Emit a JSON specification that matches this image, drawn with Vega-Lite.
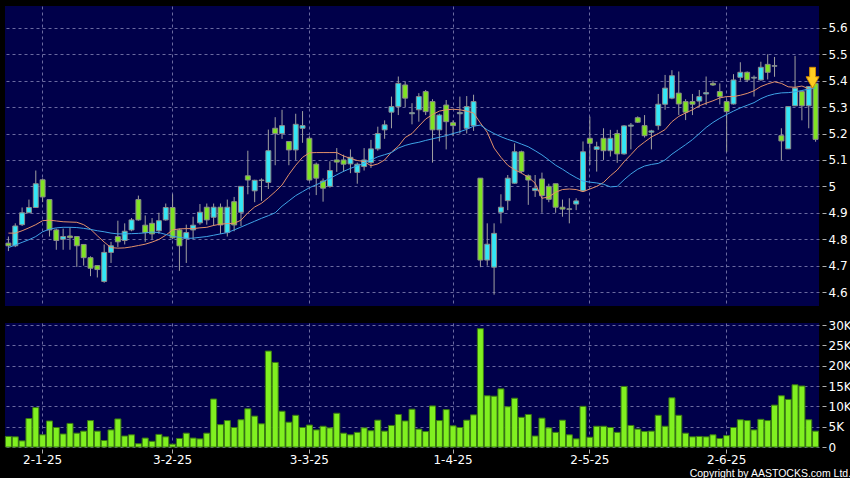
{
  "$schema": "https://vega.github.io/schema/vega-lite/v6.json",
  "background": "#000000",
  "padding": {"left": 4, "top": 6, "right": 0, "bottom": 0},
  "config": {
    "view": {"fill": "#00004a", "stroke": null},
    "concat": {"spacing": 13},
    "axis": {
      "title": null,
      "labelFont": "DejaVu Sans",
      "labelFontSize": 12,
      "labelColor": "#ffffff",
      "tickColor": "#b0b0b0",
      "domain": false,
      "gridColor": "#6a6aa0",
      "gridDash": [3, 3],
      "gridWidth": 1,
      "labelOverlap": false
    }
  },
  "title": {
    "text": "Copyright by AASTOCKS.com Ltd.",
    "orient": "bottom",
    "anchor": "end",
    "frame": "bounds",
    "font": "Liberation Sans",
    "fontSize": 10.5,
    "fontWeight": "normal",
    "color": "#ffffff",
    "offset": 4
  },
  "datasets": {
    "k": [
      {"d":"2024-12-23","o":4.785,"h":4.81,"l":4.755,"c":4.775,"v":2600,"ma1":4.823,"ma2":4.768},
      {"d":"2024-12-24","o":4.775,"h":4.86,"l":4.77,"c":4.85,"v":2500,"ma1":4.823,"ma2":4.778},
      {"d":"2024-12-27","o":4.855,"h":4.92,"l":4.85,"c":4.90,"v":1500,"ma1":4.832,"ma2":4.788},
      {"d":"2024-12-30","o":4.90,"h":4.95,"l":4.90,"c":4.92,"v":7000,"ma1":4.843,"ma2":4.798},
      {"d":"2024-12-31","o":4.92,"h":5.06,"l":4.92,"c":5.01,"v":9700,"ma1":4.855,"ma2":4.81},
      {"d":"2025-01-02","o":5.025,"h":5.03,"l":4.94,"c":4.96,"v":3000,"ma1":4.87,"ma2":4.828},
      {"d":"2025-01-03","o":4.95,"h":4.95,"l":4.81,"c":4.835,"v":6400,"ma1":4.872,"ma2":4.838},
      {"d":"2025-01-06","o":4.835,"h":4.84,"l":4.76,"c":4.795,"v":4800,"ma1":4.869,"ma2":4.843},
      {"d":"2025-01-07","o":4.80,"h":4.84,"l":4.76,"c":4.81,"v":3200,"ma1":4.866,"ma2":4.845},
      {"d":"2025-01-08","o":4.812,"h":4.845,"l":4.76,"c":4.806,"v":5800,"ma1":4.865,"ma2":4.845},
      {"d":"2025-01-09","o":4.81,"h":4.81,"l":4.695,"c":4.775,"v":3400,"ma1":4.864,"ma2":4.844},
      {"d":"2025-01-10","o":4.78,"h":4.78,"l":4.70,"c":4.73,"v":3900,"ma1":4.855,"ma2":4.841},
      {"d":"2025-01-13","o":4.73,"h":4.735,"l":4.66,"c":4.69,"v":6500,"ma1":4.838,"ma2":4.837},
      {"d":"2025-01-14","o":4.70,"h":4.70,"l":4.655,"c":4.685,"v":3900,"ma1":4.813,"ma2":4.832},
      {"d":"2025-01-15","o":4.64,"h":4.78,"l":4.635,"c":4.75,"v":1600,"ma1":4.789,"ma2":4.828},
      {"d":"2025-01-16","o":4.75,"h":4.79,"l":4.71,"c":4.775,"v":4200,"ma1":4.768,"ma2":4.823},
      {"d":"2025-01-17","o":4.81,"h":4.87,"l":4.77,"c":4.79,"v":6900,"ma1":4.766,"ma2":4.82},
      {"d":"2025-01-20","o":4.795,"h":4.86,"l":4.78,"c":4.83,"v":2700,"ma1":4.767,"ma2":4.82},
      {"d":"2025-01-21","o":4.835,"h":4.88,"l":4.83,"c":4.873,"v":3000,"ma1":4.771,"ma2":4.821},
      {"d":"2025-01-22","o":4.95,"h":4.965,"l":4.87,"c":4.873,"v":800,"ma1":4.776,"ma2":4.822},
      {"d":"2025-01-23","o":4.853,"h":4.89,"l":4.79,"c":4.825,"v":2200,"ma1":4.781,"ma2":4.824},
      {"d":"2025-01-24","o":4.86,"h":4.88,"l":4.80,"c":4.82,"v":1400,"ma1":4.789,"ma2":4.827},
      {"d":"2025-01-27","o":4.832,"h":4.90,"l":4.82,"c":4.87,"v":3100,"ma1":4.799,"ma2":4.825},
      {"d":"2025-01-28","o":4.873,"h":4.935,"l":4.87,"c":4.92,"v":2500,"ma1":4.815,"ma2":4.818},
      {"d":"2025-02-03","o":4.92,"h":4.97,"l":4.80,"c":4.805,"v":700,"ma1":4.835,"ma2":4.811},
      {"d":"2025-02-04","o":4.835,"h":4.84,"l":4.68,"c":4.775,"v":2100,"ma1":4.839,"ma2":4.807},
      {"d":"2025-02-05","o":4.803,"h":4.855,"l":4.71,"c":4.825,"v":3400,"ma1":4.84,"ma2":4.803},
      {"d":"2025-02-06","o":4.835,"h":4.885,"l":4.80,"c":4.853,"v":2200,"ma1":4.84,"ma2":4.804},
      {"d":"2025-02-07","o":4.862,"h":4.933,"l":4.855,"c":4.902,"v":2000,"ma1":4.843,"ma2":4.807},
      {"d":"2025-02-10","o":4.921,"h":4.935,"l":4.855,"c":4.873,"v":3400,"ma1":4.845,"ma2":4.81},
      {"d":"2025-02-11","o":4.883,"h":4.935,"l":4.85,"c":4.921,"v":11800,"ma1":4.852,"ma2":4.815},
      {"d":"2025-02-12","o":4.921,"h":4.935,"l":4.82,"c":4.854,"v":5500,"ma1":4.857,"ma2":4.82},
      {"d":"2025-02-13","o":4.825,"h":4.95,"l":4.81,"c":4.921,"v":6500,"ma1":4.859,"ma2":4.825},
      {"d":"2025-02-14","o":4.942,"h":4.96,"l":4.83,"c":4.854,"v":4800,"ma1":4.86,"ma2":4.835},
      {"d":"2025-02-17","o":4.902,"h":5.0,"l":4.85,"c":5.0,"v":6700,"ma1":4.872,"ma2":4.846},
      {"d":"2025-02-18","o":5.04,"h":5.135,"l":4.97,"c":5.024,"v":9400,"ma1":4.90,"ma2":4.857},
      {"d":"2025-02-19","o":4.983,"h":5.025,"l":4.94,"c":5.023,"v":7600,"ma1":4.922,"ma2":4.868},
      {"d":"2025-02-20","o":5.022,"h":5.03,"l":4.945,"c":5.024,"v":5700,"ma1":4.936,"ma2":4.879},
      {"d":"2025-02-21","o":5.015,"h":5.215,"l":4.99,"c":5.135,"v":23600,"ma1":4.957,"ma2":4.889},
      {"d":"2025-02-24","o":5.22,"h":5.262,"l":5.08,"c":5.20,"v":20800,"ma1":4.98,"ma2":4.90},
      {"d":"2025-02-25","o":5.20,"h":5.29,"l":5.18,"c":5.23,"v":8800,"ma1":5.005,"ma2":4.925},
      {"d":"2025-02-26","o":5.17,"h":5.17,"l":5.08,"c":5.138,"v":6100,"ma1":5.045,"ma2":4.945},
      {"d":"2025-02-27","o":5.138,"h":5.275,"l":5.10,"c":5.235,"v":7800,"ma1":5.08,"ma2":4.965},
      {"d":"2025-02-28","o":5.22,"h":5.285,"l":5.165,"c":5.23,"v":4800,"ma1":5.11,"ma2":4.98},
      {"d":"2025-03-03","o":5.182,"h":5.19,"l":5.02,"c":5.024,"v":5400,"ma1":5.127,"ma2":4.995},
      {"d":"2025-03-04","o":5.084,"h":5.09,"l":4.967,"c":5.031,"v":4200,"ma1":5.128,"ma2":5.006},
      {"d":"2025-03-05","o":5.02,"h":5.03,"l":4.942,"c":4.993,"v":5100,"ma1":5.128,"ma2":5.018},
      {"d":"2025-03-06","o":5.0,"h":5.095,"l":4.995,"c":5.06,"v":4700,"ma1":5.128,"ma2":5.03},
      {"d":"2025-03-07","o":5.10,"h":5.145,"l":5.055,"c":5.092,"v":8300,"ma1":5.128,"ma2":5.044},
      {"d":"2025-03-10","o":5.10,"h":5.12,"l":5.055,"c":5.084,"v":3400,"ma1":5.115,"ma2":5.057},
      {"d":"2025-03-11","o":5.085,"h":5.14,"l":5.05,"c":5.11,"v":3000,"ma1":5.106,"ma2":5.068},
      {"d":"2025-03-12","o":5.053,"h":5.09,"l":5.01,"c":5.084,"v":3600,"ma1":5.098,"ma2":5.078},
      {"d":"2025-03-13","o":5.075,"h":5.145,"l":5.06,"c":5.10,"v":4700,"ma1":5.094,"ma2":5.087},
      {"d":"2025-03-14","o":5.09,"h":5.176,"l":5.07,"c":5.142,"v":4000,"ma1":5.078,"ma2":5.10},
      {"d":"2025-03-17","o":5.142,"h":5.226,"l":5.135,"c":5.20,"v":6600,"ma1":5.085,"ma2":5.112},
      {"d":"2025-03-18","o":5.214,"h":5.25,"l":5.18,"c":5.233,"v":3900,"ma1":5.10,"ma2":5.12},
      {"d":"2025-03-19","o":5.281,"h":5.34,"l":5.22,"c":5.302,"v":5300,"ma1":5.13,"ma2":5.128},
      {"d":"2025-03-20","o":5.302,"h":5.416,"l":5.27,"c":5.39,"v":8000,"ma1":5.152,"ma2":5.145},
      {"d":"2025-03-21","o":5.384,"h":5.397,"l":5.30,"c":5.334,"v":6400,"ma1":5.185,"ma2":5.155},
      {"d":"2025-03-24","o":5.275,"h":5.315,"l":5.235,"c":5.279,"v":9300,"ma1":5.20,"ma2":5.162},
      {"d":"2025-03-25","o":5.29,"h":5.353,"l":5.245,"c":5.34,"v":4400,"ma1":5.228,"ma2":5.167},
      {"d":"2025-03-26","o":5.359,"h":5.365,"l":5.27,"c":5.283,"v":3800,"ma1":5.255,"ma2":5.174},
      {"d":"2025-03-27","o":5.321,"h":5.33,"l":5.09,"c":5.214,"v":10100,"ma1":5.272,"ma2":5.18},
      {"d":"2025-03-28","o":5.214,"h":5.275,"l":5.17,"c":5.27,"v":6500,"ma1":5.285,"ma2":5.186},
      {"d":"2025-03-31","o":5.308,"h":5.327,"l":5.14,"c":5.245,"v":9200,"ma1":5.29,"ma2":5.192},
      {"d":"2025-04-01","o":5.241,"h":5.25,"l":5.19,"c":5.23,"v":5200,"ma1":5.292,"ma2":5.20},
      {"d":"2025-04-02","o":5.275,"h":5.34,"l":5.20,"c":5.28,"v":4800,"ma1":5.29,"ma2":5.207},
      {"d":"2025-04-03","o":5.22,"h":5.342,"l":5.20,"c":5.302,"v":6600,"ma1":5.285,"ma2":5.216},
      {"d":"2025-04-04","o":5.23,"h":5.347,"l":5.21,"c":5.321,"v":7900,"ma1":5.278,"ma2":5.228},
      {"d":"2025-04-07","o":5.031,"h":5.031,"l":4.694,"c":4.721,"v":29100,"ma1":5.24,"ma2":5.232},
      {"d":"2025-04-08","o":4.721,"h":4.86,"l":4.70,"c":4.781,"v":12600,"ma1":5.205,"ma2":5.214},
      {"d":"2025-04-09","o":4.694,"h":4.86,"l":4.59,"c":4.822,"v":12500,"ma1":5.145,"ma2":5.20},
      {"d":"2025-04-10","o":4.902,"h":4.97,"l":4.86,"c":4.921,"v":14300,"ma1":5.11,"ma2":5.188},
      {"d":"2025-04-11","o":4.946,"h":5.043,"l":4.91,"c":5.031,"v":9900,"ma1":5.08,"ma2":5.178},
      {"d":"2025-04-14","o":5.012,"h":5.163,"l":5.01,"c":5.131,"v":12000,"ma1":5.063,"ma2":5.17},
      {"d":"2025-04-15","o":5.131,"h":5.135,"l":5.05,"c":5.056,"v":7300,"ma1":5.05,"ma2":5.16},
      {"d":"2025-04-16","o":5.04,"h":5.045,"l":4.93,"c":5.024,"v":8000,"ma1":5.035,"ma2":5.15},
      {"d":"2025-04-17","o":4.984,"h":5.043,"l":4.96,"c":4.993,"v":2700,"ma1":5.012,"ma2":5.135},
      {"d":"2025-04-22","o":5.028,"h":5.052,"l":4.90,"c":4.965,"v":7100,"ma1":4.955,"ma2":5.119},
      {"d":"2025-04-23","o":5.0,"h":5.01,"l":4.94,"c":4.951,"v":4700,"ma1":4.96,"ma2":5.10},
      {"d":"2025-04-24","o":5.01,"h":5.01,"l":4.90,"c":4.921,"v":3600,"ma1":4.978,"ma2":5.08},
      {"d":"2025-04-25","o":4.921,"h":4.95,"l":4.885,"c":4.914,"v":6600,"ma1":4.988,"ma2":5.065},
      {"d":"2025-04-28","o":4.913,"h":4.955,"l":4.86,"c":4.915,"v":3000,"ma1":4.99,"ma2":5.048},
      {"d":"2025-04-29","o":4.933,"h":4.955,"l":4.91,"c":4.945,"v":2000,"ma1":4.988,"ma2":5.033},
      {"d":"2025-04-30","o":4.983,"h":5.17,"l":4.98,"c":5.131,"v":10000,"ma1":4.98,"ma2":5.02},
      {"d":"2025-05-02","o":5.182,"h":5.264,"l":5.081,"c":5.163,"v":2400,"ma1":4.99,"ma2":5.016},
      {"d":"2025-05-06","o":5.14,"h":5.169,"l":5.056,"c":5.15,"v":5100,"ma1":5.0,"ma2":5.013},
      {"d":"2025-05-07","o":5.182,"h":5.22,"l":5.10,"c":5.135,"v":5100,"ma1":5.015,"ma2":5.008},
      {"d":"2025-05-08","o":5.135,"h":5.214,"l":5.113,"c":5.182,"v":4800,"ma1":5.04,"ma2":4.998},
      {"d":"2025-05-09","o":5.20,"h":5.214,"l":5.089,"c":5.123,"v":3600,"ma1":5.062,"ma2":5.0},
      {"d":"2025-05-12","o":5.123,"h":5.232,"l":5.12,"c":5.229,"v":14900,"ma1":5.093,"ma2":5.025},
      {"d":"2025-05-13","o":5.228,"h":5.24,"l":5.14,"c":5.232,"v":5300,"ma1":5.12,"ma2":5.047},
      {"d":"2025-05-14","o":5.26,"h":5.265,"l":5.24,"c":5.243,"v":4400,"ma1":5.148,"ma2":5.065},
      {"d":"2025-05-15","o":5.23,"h":5.27,"l":5.185,"c":5.192,"v":3800,"ma1":5.168,"ma2":5.077},
      {"d":"2025-05-16","o":5.205,"h":5.214,"l":5.14,"c":5.21,"v":3900,"ma1":5.187,"ma2":5.083},
      {"d":"2025-05-19","o":5.23,"h":5.35,"l":5.214,"c":5.311,"v":7800,"ma1":5.20,"ma2":5.087},
      {"d":"2025-05-20","o":5.311,"h":5.422,"l":5.29,"c":5.372,"v":5100,"ma1":5.215,"ma2":5.10},
      {"d":"2025-05-21","o":5.334,"h":5.44,"l":5.33,"c":5.419,"v":12100,"ma1":5.245,"ma2":5.122},
      {"d":"2025-05-22","o":5.353,"h":5.435,"l":5.27,"c":5.312,"v":7800,"ma1":5.265,"ma2":5.14},
      {"d":"2025-05-23","o":5.321,"h":5.33,"l":5.251,"c":5.281,"v":3400,"ma1":5.278,"ma2":5.158},
      {"d":"2025-05-26","o":5.321,"h":5.35,"l":5.27,"c":5.311,"v":2500,"ma1":5.29,"ma2":5.177},
      {"d":"2025-05-27","o":5.323,"h":5.365,"l":5.30,"c":5.34,"v":2600,"ma1":5.305,"ma2":5.20},
      {"d":"2025-05-28","o":5.35,"h":5.416,"l":5.308,"c":5.355,"v":2500,"ma1":5.315,"ma2":5.223},
      {"d":"2025-05-29","o":5.39,"h":5.40,"l":5.38,"c":5.384,"v":3000,"ma1":5.324,"ma2":5.242},
      {"d":"2025-05-30","o":5.359,"h":5.39,"l":5.31,"c":5.34,"v":2100,"ma1":5.335,"ma2":5.258},
      {"d":"2025-06-02","o":5.321,"h":5.33,"l":5.131,"c":5.283,"v":2800,"ma1":5.34,"ma2":5.272},
      {"d":"2025-06-03","o":5.312,"h":5.425,"l":5.31,"c":5.403,"v":4800,"ma1":5.34,"ma2":5.285},
      {"d":"2025-06-04","o":5.413,"h":5.47,"l":5.40,"c":5.432,"v":6700,"ma1":5.345,"ma2":5.297},
      {"d":"2025-06-05","o":5.432,"h":5.435,"l":5.395,"c":5.403,"v":6500,"ma1":5.352,"ma2":5.307},
      {"d":"2025-06-06","o":5.41,"h":5.42,"l":5.34,"c":5.413,"v":4200,"ma1":5.362,"ma2":5.317},
      {"d":"2025-06-09","o":5.403,"h":5.472,"l":5.40,"c":5.451,"v":6800,"ma1":5.378,"ma2":5.332},
      {"d":"2025-06-10","o":5.462,"h":5.50,"l":5.405,"c":5.432,"v":6500,"ma1":5.388,"ma2":5.343},
      {"d":"2025-06-11","o":5.455,"h":5.49,"l":5.415,"c":5.457,"v":10300,"ma1":5.396,"ma2":5.35},
      {"d":"2025-06-12","o":5.192,"h":5.22,"l":5.10,"c":5.172,"v":12600,"ma1":5.39,"ma2":5.354},
      {"d":"2025-06-13","o":5.142,"h":5.302,"l":5.142,"c":5.302,"v":11700,"ma1":5.377,"ma2":5.355},
      {"d":"2025-06-16","o":5.305,"h":5.494,"l":5.305,"c":5.372,"v":15300,"ma1":5.375,"ma2":5.358},
      {"d":"2025-06-17","o":5.359,"h":5.36,"l":5.25,"c":5.305,"v":15000,"ma1":5.38,"ma2":5.363},
      {"d":"2025-06-18","o":5.305,"h":5.38,"l":5.22,"c":5.378,"v":6700,"ma1":5.37,"ma2":5.368},
      {"d":"2025-06-19","o":5.39,"h":5.39,"l":5.169,"c":5.178,"v":3900,"ma1":5.385,"ma2":5.373}
    ],
    "signal": [{"d": "2025-06-19", "p": 5.411}]
  },
  "vconcat": [
    {
      "width": 814,
      "height": 300,
      "data": {"name": "k"},
      "encoding": {
        "x": {
          "field": "d",
          "type": "ordinal",
          "title": null,
          "scale": {"paddingInner": 0, "paddingOuter": 0},
          "axis": {
            "values": ["2025-01-02", "2025-02-03", "2025-03-03", "2025-04-01", "2025-05-02", "2025-06-02"],
            "bandPosition": 0.5,
            "labels": false,
            "ticks": false,
            "grid": true
          }
        }
      },
      "layer": [
        {
          "mark": {"type": "rule", "color": "#a0a0a0", "strokeWidth": 1},
          "encoding": {
            "y": {
              "field": "l",
              "type": "quantitative",
              "title": null,
              "scale": {"domain": [4.547, 5.683], "zero": false, "nice": false},
              "axis": {
                "orient": "right",
                "values": [4.6, 4.7, 4.8, 4.9, 5.0, 5.1, 5.2, 5.3, 5.4, 5.5, 5.6],
                "format": ".2~f",
                "offset": 3,
                "tickSize": 4,
                "labelPadding": 2,
                "labelOverlap": false,
                "grid": true
              }
            },
            "y2": {"field": "h"}
          }
        },
        {
          "mark": {"type": "bar", "stroke": "#8c8c8c", "strokeWidth": 1, "width": {"band": 0.72}},
          "encoding": {
            "y": {
              "field": "o",
              "type": "quantitative",
              "title": null,
              "scale": {"domain": [4.547, 5.683], "zero": false, "nice": false},
              "axis": {
                "orient": "right",
                "values": [4.6, 4.7, 4.8, 4.9, 5.0, 5.1, 5.2, 5.3, 5.4, 5.5, 5.6],
                "format": ".2~f",
                "offset": 3,
                "tickSize": 4,
                "labelPadding": 2,
                "labelOverlap": false,
                "grid": true
              }
            },
            "y2": {"field": "c"},
            "fill": {
              "condition": {"test": "datum.c >= datum.o", "value": "#33e6f6"},
              "value": "#7fe322"
            }
          }
        },
        {
          "mark": {"type": "line", "color": "#e3916a", "strokeWidth": 1},
          "encoding": {
            "y": {
              "field": "ma1",
              "type": "quantitative",
              "title": null,
              "scale": {"domain": [4.547, 5.683], "zero": false, "nice": false},
              "axis": {
                "orient": "right",
                "values": [4.6, 4.7, 4.8, 4.9, 5.0, 5.1, 5.2, 5.3, 5.4, 5.5, 5.6],
                "format": ".2~f",
                "offset": 3,
                "tickSize": 4,
                "labelPadding": 2,
                "labelOverlap": false,
                "grid": true
              }
            }
          }
        },
        {
          "mark": {"type": "line", "color": "#3fa3e6", "strokeWidth": 1},
          "encoding": {
            "y": {
              "field": "ma2",
              "type": "quantitative",
              "title": null,
              "scale": {"domain": [4.547, 5.683], "zero": false, "nice": false},
              "axis": {
                "orient": "right",
                "values": [4.6, 4.7, 4.8, 4.9, 5.0, 5.1, 5.2, 5.3, 5.4, 5.5, 5.6],
                "format": ".2~f",
                "offset": 3,
                "tickSize": 4,
                "labelPadding": 2,
                "labelOverlap": false,
                "grid": true
              }
            }
          }
        },
        {
          "data": {"name": "signal"},
          "mark": {
            "type": "point",
            "shape": "M-0.28,-1L0.28,-1L0.28,-0.1L0.62,-0.1L0,1L-0.62,-0.1L-0.28,-0.1Z",
            "size": 441,
            "filled": true,
            "fill": "#ffcc22",
            "stroke": "#d08a00",
            "strokeWidth": 1,
            "opacity": 1,
            "xOffset": -3
          },
          "encoding": {
            "y": {
              "field": "p",
              "type": "quantitative",
              "title": null,
              "scale": {"domain": [4.547, 5.683], "zero": false, "nice": false},
              "axis": {
                "orient": "right",
                "values": [4.6, 4.7, 4.8, 4.9, 5.0, 5.1, 5.2, 5.3, 5.4, 5.5, 5.6],
                "format": ".2~f",
                "offset": 3,
                "tickSize": 4,
                "labelPadding": 2,
                "labelOverlap": false,
                "grid": true
              }
            }
          }
        }
      ]
    },
    {
      "width": 814,
      "height": 124,
      "data": {"name": "k"},
      "mark": {"type": "bar", "fill": "#80f020", "stroke": "#3a7a12", "strokeWidth": 1, "width": {"band": 0.88}},
      "encoding": {
        "x": {
          "field": "d",
          "type": "ordinal",
          "title": null,
          "scale": {"paddingInner": 0, "paddingOuter": 0},
          "axis": {
            "values": ["2025-01-02", "2025-02-03", "2025-03-03", "2025-04-01", "2025-05-02", "2025-06-02"],
            "bandPosition": 0.5,
            "labelExpr": "utcFormat(toDate(datum.value), '%-d-%-m-%y')",
            "labelAngle": 0,
            "offset": 2,
            "tickSize": 4,
            "labelPadding": 1,
            "grid": true
          }
        },
        "y": {
          "field": "v",
          "type": "quantitative",
          "title": null,
          "scale": {"domain": [0, 30500], "nice": false},
          "axis": {
            "orient": "right",
            "values": [0, 5000, 10000, 15000, 20000, 25000, 30000],
            "labelExpr": "datum.value == 0 ? '0' : (datum.value / 1000) + 'K'",
            "offset": 3,
            "tickSize": 4,
            "labelPadding": 2,
            "labelOverlap": false,
            "grid": true
          }
        }
      }
    }
  ]
}
